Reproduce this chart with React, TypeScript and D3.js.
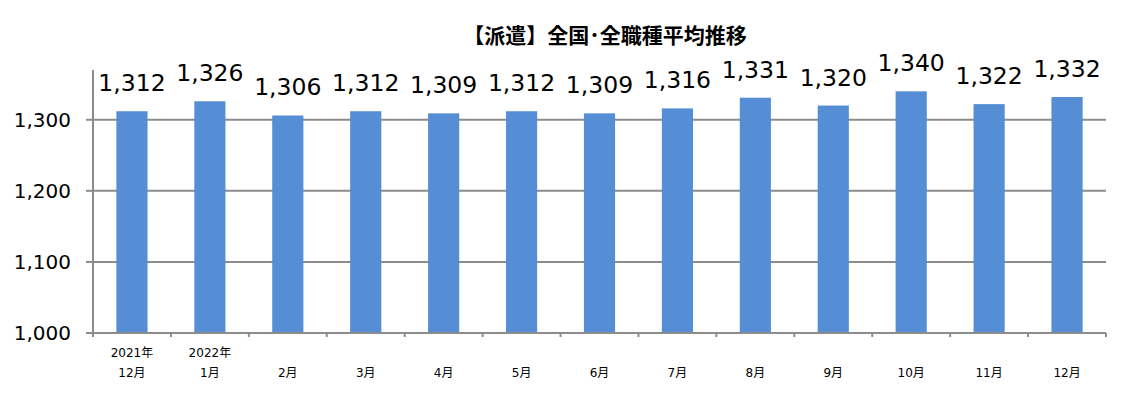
import React from "react";
import * as d3 from "d3";

const categories = ["2021-12","2022-01","2022-02","2022-03","2022-04","2022-05","2022-06","2022-07","2022-08","2022-09","2022-10","2022-11","2022-12"];
const yearLabels = ["2021年","2022年","","","","","","","","","","",""];
const monthLabels = ["12月","1月","2月","3月","4月","5月","6月","7月","8月","9月","10月","11月","12月"];
const values = [1312,1326,1306,1312,1309,1312,1309,1316,1331,1320,1340,1322,1332];
const yTicks = [1000,1100,1200,1300];
const title = "【派遣】全国･全職種平均推移";

const W = 1129, H = 397;
const left = 93, right = 1106, top = 70, bottom = 333;
const fontLatin = "'DejaVu Sans', Verdana, sans-serif";
const fontJP = "'DejaVu Sans', 'Noto Sans CJK JP', sans-serif";
const gray = "#8c8c8c";
const barColor = "#558ed5";

export default function App() {
  const x = d3.scaleBand<string>().domain(categories).range([left, right]).paddingInner(0.6).paddingOuter(0.3);
  const y = d3.scaleLinear().domain([1000, 1370]).range([bottom, top]);
  const fmt = d3.format(",");
  const step = x.step();
  const boundaries = d3.range(categories.length + 1).map(i => left + i * step);

  return (
    <svg width={W} height={H} style={{ position: "absolute", left: 0, top: 0, background: "#fff" }}>
      <text x={605} y={43} textAnchor="middle" fontFamily="'Noto Sans CJK JP', sans-serif" fontWeight="bold" fontSize={21} fill="#000">{title}</text>
      {yTicks.filter(t => t !== 1000).map(t => (
        <line key={"g" + t} x1={left} x2={right} y1={y(t)} y2={y(t)} stroke={gray} strokeWidth={2} />
      ))}
      {yTicks.map(t => (
        <g key={"t" + t}>
          <line x1={left - 7} x2={left} y1={y(t)} y2={y(t)} stroke={gray} strokeWidth={2} />
          <text x={71} y={y(t)} dy="0.36em" textAnchor="end" fontFamily={fontLatin} fontSize={20} fill="#000">{fmt(t)}</text>
        </g>
      ))}
      {categories.map((c, i) => (
        <rect key={"b" + c} x={x(c)} y={y(values[i])} width={x.bandwidth()} height={bottom - y(values[i])} fill={barColor} />
      ))}
      <line x1={left} x2={left} y1={top} y2={bottom} stroke={gray} strokeWidth={2} />
      <line x1={left - 7} x2={right} y1={bottom} y2={bottom} stroke={gray} strokeWidth={2} />
      {boundaries.map((bx, i) => (
        <line key={"xt" + i} x1={bx} x2={bx} y1={bottom} y2={bottom + 4} stroke={gray} strokeWidth={2} />
      ))}
      {categories.map((c, i) => (
        <text key={"l" + c} x={(x(c) as number) + x.bandwidth() / 2} y={y(values[i]) - 20} textAnchor="middle" fontFamily={fontLatin} fontSize={23.5} fill="#000">{fmt(values[i])}</text>
      ))}
      {categories.map((c, i) => (
        <g key={"xl" + c}>
          {yearLabels[i] && (
            <text x={(x(c) as number) + x.bandwidth() / 2} y={357} textAnchor="middle" fontFamily={fontJP} fontSize={12} fill="#000">{yearLabels[i]}</text>
          )}
          <text x={(x(c) as number) + x.bandwidth() / 2} y={377} textAnchor="middle" fontFamily={fontJP} fontSize={12} fill="#000">{monthLabels[i]}</text>
        </g>
      ))}
    </svg>
  );
}
